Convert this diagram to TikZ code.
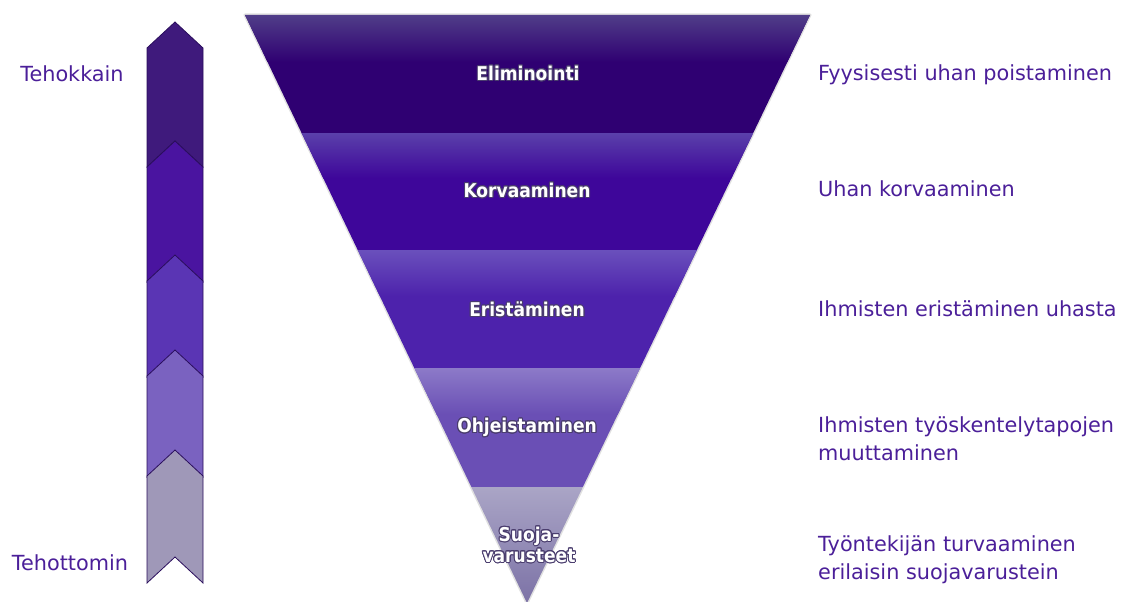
\documentclass[tikz,border=0pt]{standalone}
\usepackage{fontspec}
\usepackage{contour}
\contourlength{1pt}
\contournumber{16}
\setmainfont{DejaVu Sans}
\newfontfamily\bandfont{DejaVu Sans Condensed}
\definecolor{txt}{HTML}{4B1F99}
\definecolor{edge}{HTML}{2A0E5C}
\definecolor{glow}{HTML}{4A3D6E}
\definecolor{c1}{HTML}{3F1A7C}
\definecolor{c2}{HTML}{4A14A0}
\definecolor{c3}{HTML}{5A35B4}
\definecolor{c4}{HTML}{7A62C0}
\definecolor{c5}{HTML}{9F98B8}
\definecolor{b1}{HTML}{2F0072}
\definecolor{b1t}{HTML}{503D88}
\definecolor{b2}{HTML}{3E069A}
\definecolor{b2t}{HTML}{5A40AA}
\definecolor{b3}{HTML}{4D22AC}
\definecolor{b3t}{HTML}{6A50BC}
\definecolor{b4}{HTML}{6A4FB5}
\definecolor{b4t}{HTML}{8C7AC8}
\definecolor{b5t}{HTML}{AAA5C6}
\definecolor{b5}{HTML}{7C72A6}
\newcommand{\gl}[1]{\contour{glow}{#1}}
\tikzset{
  chev/.style={draw=edge, line width=0.8pt, line join=miter},
  sidetext/.style={text=txt, font=\fontsize{20.8}{28}\selectfont, inner sep=0pt, anchor=west, align=left},
  bandtext/.style={text=white, font=\bandfont\bfseries\fontsize{19}{21}\selectfont, inner sep=0pt, align=center}
}
\begin{document}
\begin{tikzpicture}[x=1pt,y=-1pt]
\useasboundingbox (0,0) rectangle (1125,602);
% chevron column
\foreach \t/\b/\c in {22/167/c1, 141/282/c2, 255/377/c3, 350/477/c4, 450/583/c5}{
  \filldraw[chev, fill=\c] (175,\t) -- (203,\t+26) -- (203,\b) -- (175,\b-26) -- (147,\b) -- (147,\t+26) -- cycle;
}
\node[sidetext, anchor=center] (top) at (72,74) {Tehokkain};
\node[sidetext, anchor=center] (bot) at (70,563) {Tehottomin};
% shadow of funnel
\draw[black!12, line width=3pt, line join=round] (245,15) -- (810,15) -- (527,603) -- cycle;
% funnel
\begin{scope}
\clip (245,15) -- (810,15) -- (527,603) -- cycle;
\fill[b1] (240,15) rectangle (815,133);
\shade[top color=b1t, bottom color=b1] (240,15) rectangle (815,62);
\fill[b2] (240,133) rectangle (815,250);
\shade[top color=b2t, bottom color=b2] (240,133) rectangle (815,178);
\fill[b3] (240,250) rectangle (815,368);
\shade[top color=b3t, bottom color=b3] (240,250) rectangle (815,296);
\fill[b4] (240,368) rectangle (815,487);
\shade[top color=b4t, bottom color=b4] (240,368) rectangle (815,414);
\shade[top color=b5t, bottom color=b5] (240,487) rectangle (815,603);
\end{scope}
\node[bandtext] (l1) at (528,74) {\gl{Eliminointi}};
\node[bandtext] (l2) at (527,191) {\gl{Korvaaminen}};
\node[bandtext] (l3) at (527,310) {\gl{Eristäminen}};
\node[bandtext] (l4) at (527,428) {\gl{Ohjeistaminen}};
\node[bandtext] (l5) at (529,545) {\gl{Suoja-}\\\gl{varusteet}};
% right texts
\node[sidetext] (r1) at (818,75) {Fyysisesti uhan poistaminen};
\node[sidetext] (r2) at (818,189) {Uhan korvaaminen};
\node[sidetext] (r3) at (818,309) {Ihmisten eristäminen uhasta};
\node[sidetext] (r4) at (818,439) {Ihmisten työskentelytapojen\\muuttaminen};
\node[sidetext] (r5) at (818,560) {Työntekijän turvaaminen\\erilaisin suojavarustein};
\end{tikzpicture}
\end{document}
